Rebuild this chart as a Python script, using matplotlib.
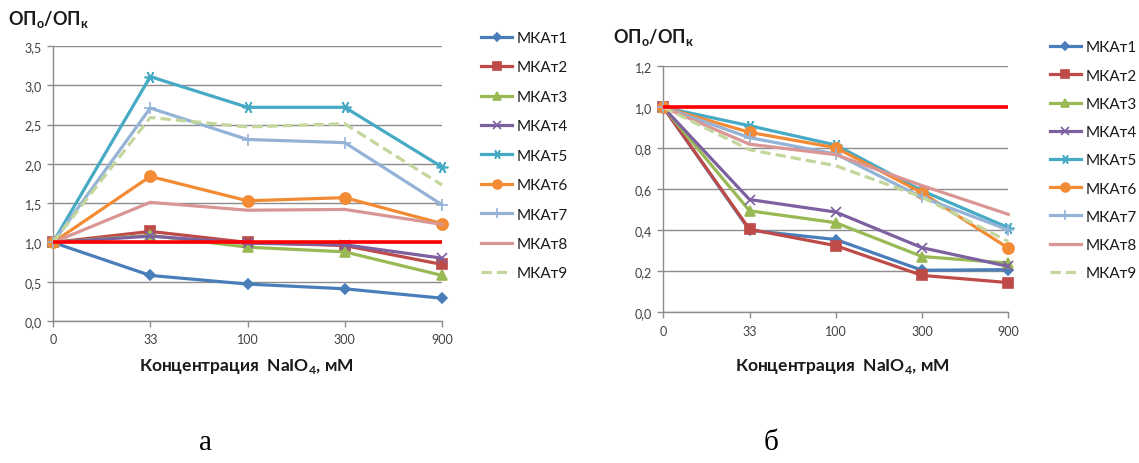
import matplotlib
matplotlib.use("Agg")
import matplotlib.pyplot as plt

plt.rcParams['font.family'] = ['Lato', 'DejaVu Sans']
plt.rcParams['mathtext.fontset'] = 'custom'
plt.rcParams['mathtext.rm'] = 'Lato'
plt.rcParams['mathtext.bf'] = 'Lato:bold'

# ---------------- data ----------------
categories = ["0", "33", "100", "300", "900"]
series_names = ["МКАт1", "МКАт2", "МКАт3", "МКАт4", "МКАт5",
                "МКАт6", "МКАт7", "МКАт8", "МКАт9"]

# panel а
a_mkat1 = [1.00, 0.58, 0.47, 0.41, 0.29]
a_mkat2 = [1.00, 1.14, 1.00, 0.96, 0.72]
a_mkat3 = [1.00, 1.09, 0.94, 0.88, 0.58]
a_mkat4 = [1.00, 1.08, 0.99, 0.97, 0.80]
a_mkat5 = [1.00, 3.11, 2.72, 2.72, 1.96]
a_mkat6 = [1.00, 1.84, 1.53, 1.57, 1.24]
a_mkat7 = [1.00, 2.71, 2.31, 2.27, 1.48]
a_mkat8 = [1.00, 1.51, 1.41, 1.42, 1.23]
a_mkat9 = [1.00, 2.59, 2.47, 2.51, 1.73]
a_control = [1.00, 1.00, 1.00, 1.00, 1.00]

# panel б
b_mkat1 = [1.00, 0.40, 0.355, 0.205, 0.208]
b_mkat2 = [1.00, 0.405, 0.325, 0.180, 0.145]
b_mkat3 = [1.00, 0.495, 0.437, 0.272, 0.240]
b_mkat4 = [1.00, 0.55, 0.489, 0.315, 0.224]
b_mkat5 = [1.00, 0.91, 0.816, 0.593, 0.413]
b_mkat6 = [1.00, 0.878, 0.803, 0.583, 0.313]
b_mkat7 = [1.00, 0.852, 0.772, 0.561, 0.402]
b_mkat8 = [1.00, 0.82, 0.769, 0.618, 0.478]
b_mkat9 = [1.00, 0.793, 0.715, 0.562, 0.345]
b_control = [1.00, 1.00, 1.00, 1.00, 1.00]

a_series = [a_mkat1, a_mkat2, a_mkat3, a_mkat4, a_mkat5,
            a_mkat6, a_mkat7, a_mkat8, a_mkat9]
b_series = [b_mkat1, b_mkat2, b_mkat3, b_mkat4, b_mkat5,
            b_mkat6, b_mkat7, b_mkat8, b_mkat9]

# ---------------- styles ----------------
colors = ["#4A7EBB", "#BE4B48", "#98B954", "#7D60A0", "#46AAC5",
          "#F38A34", "#95B3D7", "#D99694", "#C3D69B"]
markers = ["D", "s", "^", "x", (6, 2, 90), "o", "+", None, None]
msizes = [5.5, 7, 7.5, 7.5, 8.5, 8, 8.5, 0, 0]
dashes = ["-", "-", "-", "-", "-", "-", "-", "-", (0, (3.2, 1.6))]

W, H = 1139, 464
fig = plt.figure(figsize=(W / 100, H / 100), dpi=100)

def px_axes(l, t, r, b):
    return fig.add_axes([l / W, 1 - b / H, (r - l) / W, (b - t) / H])

grid_col = "#8C8C8C"
tick_col = "#404040"

def style_axes(ax, ymax, ystep):
    ax.set_xlim(0, len(categories) - 1)
    ax.set_ylim(0, ymax)
    n = int(round(ymax / ystep))
    yt = [i * ystep for i in range(n + 1)]
    ax.set_yticks(yt)
    ax.set_yticklabels([f"{v:.1f}".replace(".", ",") for v in yt])
    ax.set_xticks(range(len(categories)))
    ax.set_xticklabels(categories)
    for s in ["top", "right"]:
        ax.spines[s].set_visible(False)
    for s in ["left", "bottom"]:
        ax.spines[s].set_color(grid_col)
        ax.spines[s].set_linewidth(1.0)
    ax.grid(axis="y", color=grid_col, linewidth=1.0)
    ax.set_axisbelow(True)
    ax.tick_params(axis="both", direction="out", length=4, width=1,
                   color=grid_col, labelcolor=tick_col, labelsize=9)
    ax.tick_params(axis="y", pad=4)
    ax.tick_params(axis="x", pad=5)
    ax.patch.set_alpha(0)

def draw(ax, series, control):
    x = list(range(len(categories)))
    handles = []
    for i, vals in enumerate(series):
        ln, = ax.plot(x, vals, color=colors[i], linewidth=2.3,
                      linestyle=dashes[i], marker=markers[i],
                      markersize=msizes[i], markeredgewidth=1.2,
                      markerfacecolor=colors[i], markeredgecolor=colors[i],
                      label=series_names[i], clip_on=False, zorder=3)
        handles.append(ln)
    ax.plot(x, control, color="#FF0000", linewidth=2.6, zorder=4,
            clip_on=False, solid_capstyle="butt")
    return handles

# panel а
ax1 = px_axes(53, 47, 442, 322)
h1 = draw(ax1, a_series, a_control)
style_axes(ax1, 3.5, 0.5)

# panel б
ax2 = px_axes(663.3, 67.3, 1008.3, 313.3)
h2 = draw(ax2, b_series, b_control)
style_axes(ax2, 1.2, 0.2)

def add_legend(handles, x_px, y_px, spacing):
    leg = fig.legend(handles=handles, loc="upper left",
                     bbox_to_anchor=(x_px / W, 1 - y_px / H),
                     frameon=False, fontsize=11, handlelength=2.0,
                     handletextpad=0.3, labelspacing=spacing,
                     borderpad=0, borderaxespad=0, markerscale=0.8)
    for t in leg.get_texts():
        t.set_color("#1a1a1a")
    return leg

add_legend(h1, 481.5, 32, 1.01)
add_legend(h2, 1050, 41.5, 0.93)

# y labels
ylab = r"ОП$_{\mathregular{о}}$/ОП$_{\mathregular{к}}$"
fig.text(8 / W, 1 - 19 / H, ylab, fontsize=13, fontweight="bold",
         va="center", ha="left", color="#1a1a1a")
fig.text(613 / W, 1 - 37 / H, ylab, fontsize=13, fontweight="bold",
         va="center", ha="left", color="#1a1a1a")

# x labels
xlab = r"Концентрация  NaIO$_{\mathregular{4}}$, мМ"
fig.text(246 / W, 1 - 367 / H, xlab, fontsize=12.5, fontweight="bold",
         ha="center", va="center", color="#1a1a1a")
fig.text(842 / W, 1 - 367 / H, xlab, fontsize=12.5, fontweight="bold",
         ha="center", va="center", color="#1a1a1a")

# panel letters
fig.text(205 / W, 1 - 443 / H, "а", fontsize=21, family="Liberation Serif",
         ha="center", va="center", color="black")
fig.text(771 / W, 1 - 443 / H, "б", fontsize=21, family="Liberation Serif",
         ha="center", va="center", color="black")

fig.savefig("out.png", dpi=100, facecolor="white")
